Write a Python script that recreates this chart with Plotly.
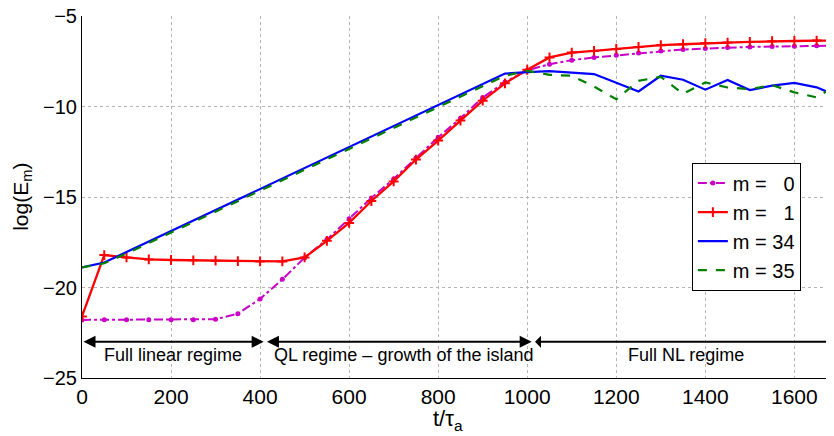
import plotly.graph_objects as go

# ---- data ----
t = [0, 50, 100, 150, 200, 250, 300, 350, 400, 450, 500, 550, 600, 650, 700, 750, 800, 850,
     900, 950, 1000, 1050, 1100, 1150, 1200, 1250, 1300, 1350, 1400, 1450, 1500, 1550, 1600, 1650, 1700]

m0 = [-21.79, -21.78, -21.78, -21.78, -21.78, -21.78, -21.75, -21.45, -20.63, -19.55, -18.35, -17.35,
      -16.20, -15.05, -14.00, -12.85, -11.70, -10.65, -9.50, -8.65, -8.00, -7.66, -7.44, -7.29, -7.17,
      -7.05, -6.94, -6.85, -6.80, -6.74, -6.71, -6.69, -6.67, -6.65, -6.64]

m1 = [-21.60, -18.21, -18.34, -18.45, -18.48, -18.50, -18.52, -18.54, -18.56, -18.56, -18.34, -17.42,
      -16.43, -15.22, -14.14, -12.93, -11.88, -10.78, -9.68, -8.72, -7.97, -7.29, -7.02, -6.93, -6.82,
      -6.71, -6.61, -6.56, -6.50, -6.47, -6.43, -6.39, -6.38, -6.36, -6.35]

m34 = [-18.89, -18.62, -18.04, -17.46, -16.88, -16.30, -15.72, -15.14, -14.56, -13.98, -13.40, -12.82,
       -12.24, -11.66, -11.08, -10.50, -9.92, -9.34, -8.76, -8.18, -8.10, -8.05, -8.13, -8.21, -8.69,
       -9.17, -8.30, -8.52, -9.07, -8.54, -9.09, -8.85, -8.70, -8.94, -9.45]

m35 = [-18.89, -18.66, -18.12, -17.55, -16.97, -16.39, -15.81, -15.23, -14.65, -14.07, -13.49, -12.91,
       -12.33, -11.75, -11.17, -10.59, -10.01, -9.43, -8.85, -8.30, -8.03, -8.25, -8.30, -8.90, -9.60,
       -8.58, -8.36, -9.30, -8.67, -8.95, -9.04, -8.82, -9.22, -9.50, -8.75]

series_names = ["m = \u00a0\u00a00", "m = \u00a0\u00a01", "m = 34", "m = 35"]

x_ticks = [0, 200, 400, 600, 800, 1000, 1200, 1400, 1600]
y_ticks = [-25, -20, -15, -10, -5]

# regimes: (start, end), label, label position
regime_bounds = [(0, 408), (412, 1010), (1014, 1760)]
regime_labels = ["Full linear regime", "QL regime \u2013 growth of the island", "Full NL regime"]
regime_label_t = [205, 722, 1357]
arrow_level = -23.0
label_level = -23.72

FONT = "Liberation Sans, Arial, Helvetica, sans-serif"

fig = go.Figure()
fig.add_trace(go.Scatter(x=t, y=m0, name=series_names[0], mode="lines+markers",
                         line=dict(color="#C800C8", width=2, dash="dashdot"),
                         marker=dict(symbol="circle", size=5, color="#C800C8")))
fig.add_trace(go.Scatter(x=t, y=m1, name=series_names[1], mode="lines+markers",
                         line=dict(color="#FF0000", width=2.3),
                         marker=dict(symbol="cross-thin", size=7, color="#FF0000",
                                     line=dict(width=2, color="#FF0000"))))
fig.add_trace(go.Scatter(x=t, y=m34, name=series_names[2], mode="lines",
                         line=dict(color="#0000FF", width=2.2)))
fig.add_trace(go.Scatter(x=t, y=m35, name=series_names[3], mode="lines",
                         line=dict(color="#008000", width=2.2, dash="dash")))

annotations = []
for (a, b), lab, lt in zip(regime_bounds, regime_labels, regime_label_t):
    side = "end+start" if b < 1700 else "start"
    annotations.append(dict(x=b, y=arrow_level, ax=a, ay=arrow_level, xref="x", yref="y",
                            axref="x", ayref="y", text="", showarrow=True, arrowside=side,
                            arrowhead=2, arrowsize=1.2, arrowwidth=2, arrowcolor="black",
                            standoff=0, startstandoff=0))
    annotations.append(dict(x=lt, y=label_level, xref="x", yref="y", text=lab, showarrow=False,
                            font=dict(family=FONT, size=18, color="black")))

# axis titles as annotations for exact placement
annotations.append(dict(x=0.487, y=-0.115, xref="paper", yref="paper", text="t/\u03c4<sub>a</sub>",
                        showarrow=False, xanchor="center", yanchor="middle",
                        font=dict(family=FONT, size=22, color="black")))
annotations.append(dict(x=-0.08, y=0.5, xref="paper", yref="paper", text="log(E<sub>m</sub>)",
                        showarrow=False, xanchor="center", yanchor="middle", textangle=-90,
                        font=dict(family=FONT, size=21, color="black")))

fig.update_layout(
    width=826, height=428,
    margin=dict(l=74, r=0, t=8, b=58, autoexpand=False),
    paper_bgcolor="white", plot_bgcolor="white",
    font=dict(family=FONT, size=20, color="black"),
    showlegend=True,
    legend=dict(x=0.811, y=0.595, xanchor="left", yanchor="top",
                bgcolor="white", bordercolor="black", borderwidth=1,
                font=dict(family=FONT, size=20, color="black"),
                itemwidth=30, tracegroupgap=0),
    annotations=annotations,
    xaxis=dict(range=[0, 1689], tickvals=x_ticks, showgrid=True, gridcolor="#b4b4b4",
               griddash="dot", gridwidth=1, showline=True, linecolor="black", linewidth=1,
               zeroline=False, ticks="", tickfont=dict(size=21), automargin=False,
               ticklabeloverflow="allow"),
    yaxis=dict(range=[-25, -5], tickvals=y_ticks, showgrid=True, gridcolor="#b4b4b4",
               griddash="dot", gridwidth=1, showline=True, linecolor="black", linewidth=1,
               zeroline=False, ticks="", tickfont=dict(size=20), automargin=False,
               ticklabeloverflow="allow"),
)

fig.write_html("out.html")
